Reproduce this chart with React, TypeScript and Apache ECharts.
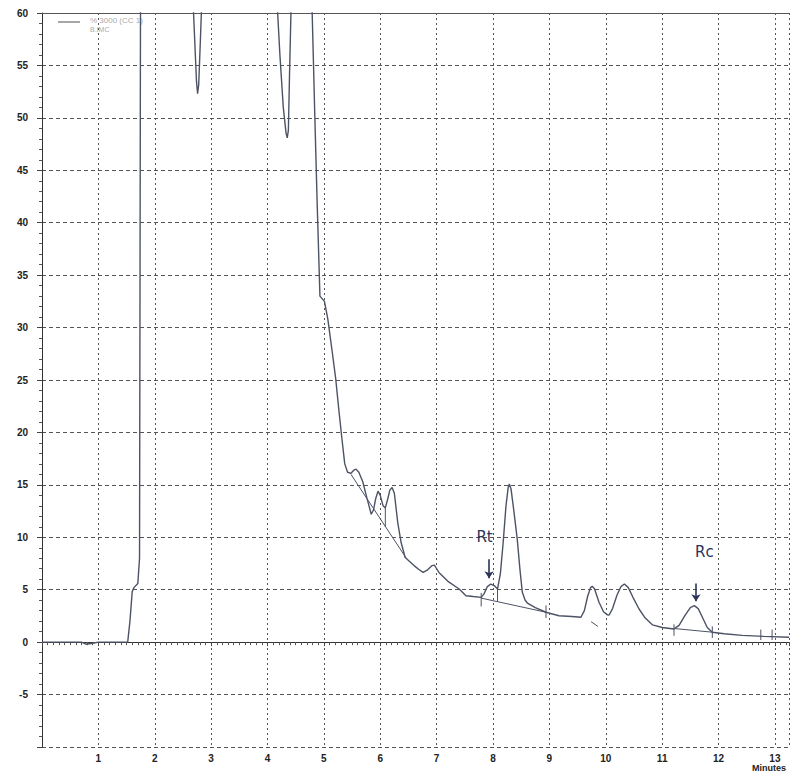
import React, { useEffect, useRef } from "react";
import * as echarts from "echarts";

// Chromatogram trace: retention time (minutes) and detector response
const times = [
  0.0, 0.7, 0.78, 0.9, 1.0, 1.52, 1.56, 1.6, 1.63, 1.7, 1.73, 1.76, 2.6, 2.68, 2.72, 2.74, 2.76, 2.78, 2.81, 2.84, 2.9,
  4.1, 4.17, 4.22, 4.28, 4.33, 4.35, 4.37, 4.39, 4.42, 4.5, 4.75, 4.79, 4.84, 4.88, 4.9, 4.93, 5.01, 5.07, 5.15, 5.21,
  5.27, 5.32, 5.37, 5.42, 5.48, 5.53, 5.57, 5.62, 5.69, 5.76, 5.84, 5.88, 5.92, 5.96, 6.0, 6.05, 6.09, 6.13, 6.17,
  6.21, 6.25, 6.31, 6.37, 6.44, 6.52, 6.6, 6.68, 6.76, 6.84, 6.92, 6.96, 7.0, 7.04, 7.2, 7.4, 7.52, 7.65, 7.79, 7.84,
  7.9, 7.96, 8.02, 8.08, 8.13, 8.18, 8.23, 8.27, 8.29, 8.32, 8.37, 8.43, 8.48, 8.52, 8.57, 8.61, 8.75, 8.94, 9.17,
  9.4, 9.56, 9.62, 9.68, 9.73, 9.76, 9.8, 9.88, 9.96, 10.03, 10.06, 10.12, 10.2, 10.27, 10.33, 10.4, 10.48, 10.59,
  10.7, 10.83, 11.0, 11.21, 11.3, 11.4, 11.5, 11.57, 11.64, 11.72, 11.8, 11.89, 12.1, 12.42, 12.8, 13.25,
];
const response = [
  0.0, 0.0, -0.2, -0.1, 0.0, 0.0, 2.0, 4.8, 5.2, 5.6, 8.0, 100, 100, 61, 56, 53.5, 52.3, 53.2, 57.5, 62, 100,
  100, 61, 56, 51, 48.5, 48.1, 48.8, 54, 61, 100, 100, 60.5, 50, 42, 38.4, 33.0, 32.5, 30.8, 27.6, 25.1,
  21.9, 19.4, 17.0, 16.2, 16.1, 16.4, 16.5, 16.2, 15.3, 13.8, 12.2, 12.6, 13.7, 14.4, 14.0, 13.0, 12.8, 13.6, 14.5,
  14.75, 14.2, 11.4, 9.5, 8.1, 7.7, 7.3, 6.95, 6.65, 6.9, 7.3, 7.35, 7.0, 6.65, 5.8, 5.07, 4.43, 4.35, 4.27, 4.6,
  5.3, 5.54, 5.4, 5.07, 6.5, 9.5, 13.0, 14.8, 15.07, 14.6, 12.5, 9.8, 6.8, 4.75, 4.0, 3.73, 3.3, 2.85, 2.52,
  2.45, 2.37, 3.0, 4.4, 5.2, 5.32, 5.1, 3.8, 2.9, 2.6, 2.59, 3.2, 4.5, 5.3, 5.54, 5.2, 4.3, 3.16,
  2.3, 1.64, 1.4, 1.26, 1.6, 2.5, 3.3, 3.48, 3.2, 2.3, 1.4, 0.94, 0.8, 0.65, 0.55, 0.47,
];

// Integration baselines / drop lines drawn by the integrator (segments separated by null)
const baseTimes = [5.48, 6.45, null, 6.09, 6.09, null, 7.79, 8.94, null, 8.08, 8.08, null, 7.79, 7.79, null, 8.94, 8.94, null,
  9.74, 9.86, null, 11.21, 11.89, null, 11.21, 11.21, null, 11.89, 11.89, null, 12.75, 12.75, null, 12.95, 12.95];
const baseValues = [16.0, 8.1, null, 12.8, 11.0, null, 4.2, 2.85, null, 5.07, 3.85, null, 4.7, 3.4, null, 3.5, 2.3, null,
  1.95, 1.5, null, 1.3, 0.95, null, 1.7, 0.6, null, 1.5, 0.4, null, 1.2, 0.2, null, 1.2, 0.2];

// Hand-written annotations
const noteLabels = ["Rt", "Rc"];
const noteTimes = [7.85, 11.75];
const noteValues = [10.0, 8.6];
const arrowTimes = [7.93, 11.6];
const arrowFrom = [7.9, 5.6];
const arrowTo = [6.1, 3.9];

const xTicks = [1, 2, 3, 4, 5, 6, 7, 8, 9, 10, 11, 12, 13];
const yTicks = [-5, 0, 5, 10, 15, 20, 25, 30, 35, 40, 45, 50, 55, 60];

const FONT = "'Liberation Sans', Arial, sans-serif";
const CURVE = "#4d5364";
const INK = "#2c3358";

export default function App() {
  const ref = useRef<HTMLDivElement>(null);
  useEffect(() => {
    if (!ref.current) return;
    const chart = echarts.init(ref.current, null, { renderer: "svg" });
    const traceData = times.map((t, i) => [t, response[i]]);
    const baseData = baseTimes.map((t, i) => (t === null ? [null, null] : [t, baseValues[i]]));
    chart.setOption({
      animation: false,
      backgroundColor: "#ffffff",
      grid: { left: 42, right: 2, top: 13, bottom: 25, containLabel: false },
      xAxis: [
        {
          type: "value",
          min: 0,
          max: 13.25,
          interval: 1,
          axisLine: { show: true, lineStyle: { color: "#333", width: 1 } },
          axisTick: { show: true, length: 4, lineStyle: { color: "#444" } },
          minorTick: { show: true, splitNumber: 10, length: 3, lineStyle: { color: "#555" } },
          axisLabel: {
            color: "#222",
            fontFamily: FONT,
            fontSize: 10,
            fontWeight: "bold",
            margin: 6,
            formatter: (v: number) => (xTicks.indexOf(v) >= 0 ? String(v) : ""),
          },
          splitLine: { show: true, lineStyle: { color: "#555", type: [2, 3], width: 1 } },
        },
        {
          type: "value",
          position: "top",
          min: 0,
          max: 13.25,
          interval: 1,
          axisLine: { show: true, lineStyle: { color: "#555", width: 1 } },
          axisTick: { show: false },
          axisLabel: { show: false },
          splitLine: { show: false },
        },
      ],
      yAxis: {
        type: "value",
        min: -10,
        max: 60,
        interval: 5,
        axisLine: { show: true, lineStyle: { color: "#333", width: 1 } },
        axisTick: { show: true, length: 5, lineStyle: { color: "#444" } },
        minorTick: { show: true, splitNumber: 5, length: 3, lineStyle: { color: "#555" } },
        axisLabel: {
          color: "#222",
          fontFamily: FONT,
          fontSize: 10,
          fontWeight: "bold",
          margin: 14,
          formatter: (v: number) => (yTicks.indexOf(v) >= 0 ? String(v) : ""),
        },
        splitLine: { show: true, lineStyle: { color: "#555", type: [4, 3], width: 1 } },
      },
      series: [
        {
          type: "line",
          data: traceData,
          showSymbol: false,
          symbol: "none",
          clip: true,
          smooth: false,
          lineStyle: { color: CURVE, width: 1.4 },
          markPoint: {
            symbol: "circle",
            symbolSize: 0,
            data: noteLabels.map((n, i) => ({
              coord: [noteTimes[i], noteValues[i]],
              label: { show: true, formatter: n, color: INK, fontFamily: "'DejaVu Sans', sans-serif", fontSize: 15, position: "inside" },
            })),
          },
          markLine: {
            silent: true,
            symbol: ["none", "arrow"],
            symbolSize: 7,
            label: { show: false },
            lineStyle: { color: INK, width: 1.6, type: "solid" },
            data: arrowTimes.map((t, i) => [
              { coord: [t, arrowFrom[i]] },
              { coord: [t, arrowTo[i]] },
            ]),
          },
        },
        {
          type: "line",
          data: baseData,
          showSymbol: false,
          symbol: "none",
          connectNulls: false,
          lineStyle: { color: CURVE, width: 1 },
        },
      ],
      graphic: [
        { type: "line", shape: { x1: 58, y1: 22, x2: 80, y2: 22 }, style: { stroke: "#888", lineWidth: 1.5 } },
        { type: "text", x: 90, y: 16, style: { text: "% 3000 (CC 1)", fill: "#aaa", font: "8px 'Liberation Sans', sans-serif" } },
        { type: "text", x: 90, y: 26, style: { text: "B.IMC", fill: "#aaa", font: "7px 'Liberation Sans', sans-serif" } },
        { type: "text", x: 752, y: 763, style: { text: "Minutes", fill: "#222", font: "bold 9px 'Liberation Sans', sans-serif" } },
      ],
    });
    return () => chart.dispose();
  }, []);
  return <div ref={ref} style={{ position: "fixed", left: 0, top: 0, width: 792, height: 772 }} />;
}
